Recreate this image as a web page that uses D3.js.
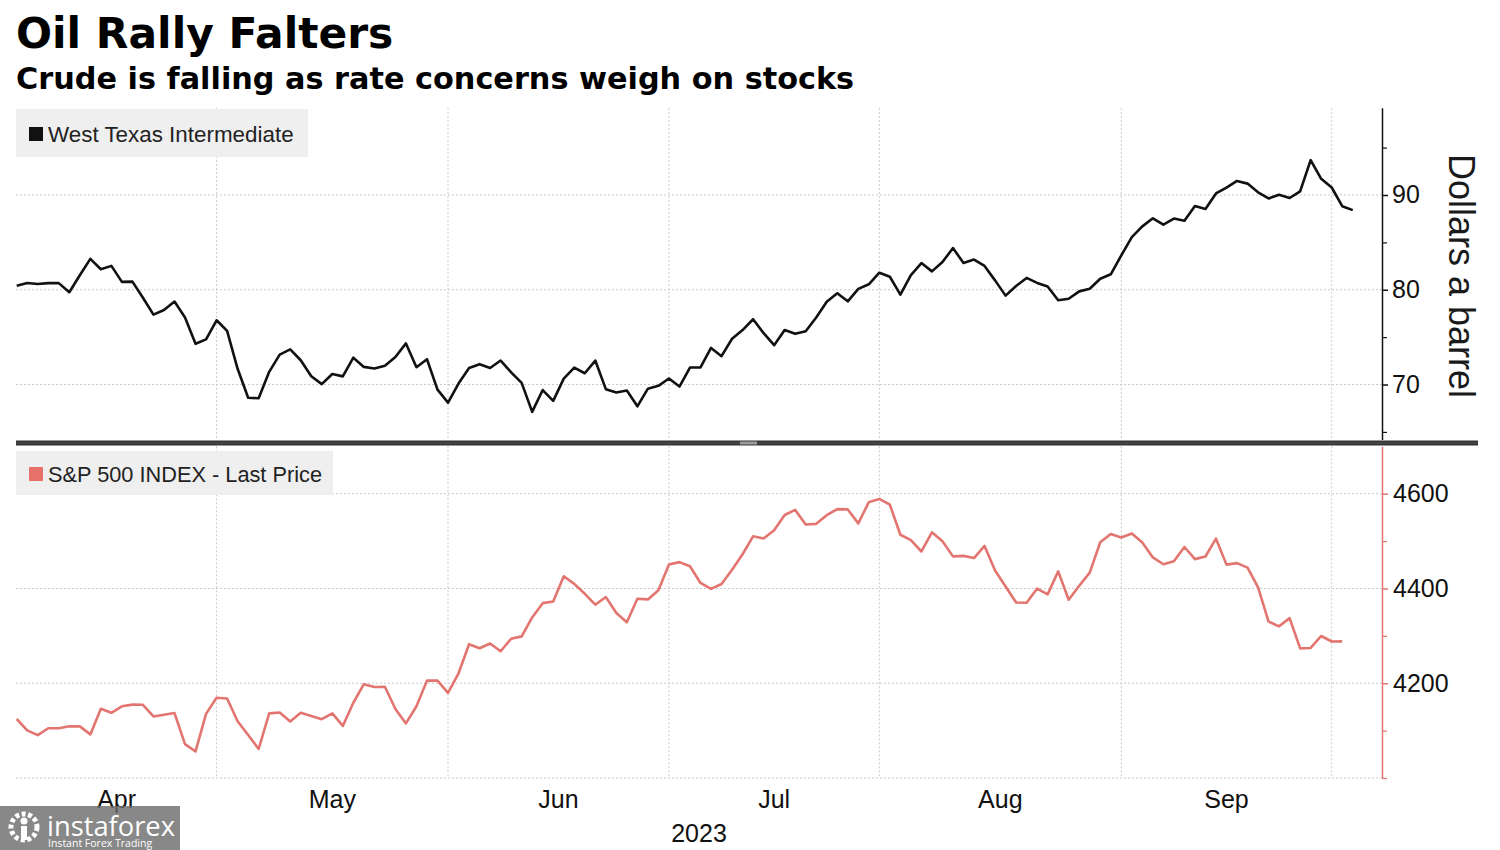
<!DOCTYPE html>
<html>
<head>
<meta charset="utf-8">
<script src="https://cdn.jsdelivr.net/npm/d3@7"></script>
<style>
  html, body { margin: 0; padding: 0; background: #ffffff; }
  svg { display: block; }
</style>
</head>
<body>
<svg id="chart" width="1500" height="850"></svg>
<script>
// ---------------- DATA ----------------
const title = "Oil Rally Falters";
const subtitle = "Crude is falling as rate concerns weigh on stocks";
const wtiLabel = "West Texas Intermediate";
const spxLabel = "S&P 500 INDEX - Last Price";
const wtiAxisTitle = "Dollars a barrel";
const yearLabel = "2023";

// trading days shown on the chart (Apr 3 2023 .. Oct 3 2023)
const dates = [
  "2023-04-03","2023-04-04","2023-04-05","2023-04-06","2023-04-07","2023-04-10","2023-04-11","2023-04-12","2023-04-13","2023-04-14",
  "2023-04-17","2023-04-18","2023-04-19","2023-04-20","2023-04-21","2023-04-24","2023-04-25","2023-04-26","2023-04-27","2023-04-28",
  "2023-05-01","2023-05-02","2023-05-03","2023-05-04","2023-05-05","2023-05-08","2023-05-09","2023-05-10","2023-05-11","2023-05-12",
  "2023-05-15","2023-05-16","2023-05-17","2023-05-18","2023-05-19","2023-05-22","2023-05-23","2023-05-24","2023-05-25","2023-05-26",
  "2023-05-30","2023-05-31",
  "2023-06-01","2023-06-02","2023-06-05","2023-06-06","2023-06-07","2023-06-08","2023-06-09","2023-06-12","2023-06-13","2023-06-14",
  "2023-06-15","2023-06-16","2023-06-20","2023-06-21","2023-06-22","2023-06-23","2023-06-26","2023-06-27","2023-06-28","2023-06-29",
  "2023-06-30",
  "2023-07-03","2023-07-05","2023-07-06","2023-07-07","2023-07-10","2023-07-11","2023-07-12","2023-07-13","2023-07-14","2023-07-17",
  "2023-07-18","2023-07-19","2023-07-20","2023-07-21","2023-07-24","2023-07-25","2023-07-26","2023-07-27","2023-07-28","2023-07-31",
  "2023-08-01","2023-08-02","2023-08-03","2023-08-04","2023-08-07","2023-08-08","2023-08-09","2023-08-10","2023-08-11","2023-08-14",
  "2023-08-15","2023-08-16","2023-08-17","2023-08-18","2023-08-21","2023-08-22","2023-08-23","2023-08-24","2023-08-25","2023-08-28",
  "2023-08-29","2023-08-30","2023-08-31",
  "2023-09-01","2023-09-05","2023-09-06","2023-09-07","2023-09-08","2023-09-11","2023-09-12","2023-09-13","2023-09-14","2023-09-15",
  "2023-09-18","2023-09-19","2023-09-20","2023-09-21","2023-09-22","2023-09-25","2023-09-26","2023-09-27","2023-09-28","2023-09-29",
  "2023-10-02","2023-10-03"
];

// West Texas Intermediate, $/bbl
const wti = [
  80.42, 80.71, 80.61, 80.70, 80.70, 79.74, 81.53, 83.26, 82.16, 82.52,
  80.83, 80.86, 79.16, 77.37, 77.87, 78.76, 77.07, 74.30, 74.76, 76.78,
  75.66, 71.66, 68.60, 68.56, 71.34, 73.16, 73.71, 72.56, 70.87, 70.04,
  71.11, 70.86, 72.83, 71.86, 71.69, 71.99, 72.91, 74.34, 71.83, 72.67,
  69.46, 68.09,
  70.10, 71.74, 72.15, 71.74, 72.53, 71.29, 70.17, 67.12, 69.42, 68.27,
  70.62, 71.78, 71.19, 72.53, 69.51, 69.16, 69.37, 67.70, 69.56, 69.86,
  70.64,
  69.79, 71.79, 71.80, 73.86, 72.99, 74.83, 75.75, 76.89, 75.42, 74.15,
  75.75, 75.35, 75.63, 77.07, 78.74, 79.63, 78.78, 80.09, 80.58, 81.80,
  81.37, 79.49, 81.55, 82.82, 81.94, 82.92, 84.40, 82.82, 83.19, 82.51,
  80.99, 79.38, 80.39, 81.25, 80.72, 80.35, 78.89, 79.05, 79.83, 80.10,
  81.16, 81.63, 83.63,
  85.55, 86.69, 87.54, 86.87, 87.51, 87.29, 88.84, 88.52, 90.16, 90.77,
  91.48, 91.20, 90.28, 89.63, 90.03, 89.68, 90.39, 93.68, 91.71, 90.79,
  88.82, 88.40
];

// S&P 500 index, last price
const spx = [
  4124.5, 4100.6, 4090.4, 4105.0, 4105.0, 4109.1, 4108.9, 4092.0, 4146.2, 4137.6,
  4151.3, 4154.9, 4154.5, 4129.8, 4133.5, 4137.0, 4071.6, 4056.0, 4135.4, 4169.5,
  4167.9, 4119.6, 4090.8, 4061.2, 4136.3, 4138.1, 4119.2, 4137.6, 4130.6, 4124.1,
  4136.3, 4109.9, 4158.8, 4198.1, 4192.0, 4192.6, 4145.6, 4115.2, 4151.3, 4205.5,
  4205.5, 4179.8,
  4221.0, 4282.4, 4273.8, 4283.9, 4267.5, 4293.9, 4298.9, 4338.9, 4369.0, 4372.6,
  4425.8, 4409.6, 4388.7, 4365.7, 4381.9, 4348.3, 4328.8, 4378.4, 4376.9, 4396.4,
  4450.4,
  4455.6, 4446.8, 4411.6, 4399.0, 4409.5, 4439.3, 4472.2, 4510.0, 4505.4, 4522.8,
  4555.0, 4565.7, 4534.9, 4536.3, 4554.6, 4567.5, 4566.8, 4537.4, 4582.2, 4589.0,
  4576.7, 4513.4, 4501.9, 4478.0, 4518.4, 4499.4, 4467.7, 4468.8, 4464.1, 4489.7,
  4437.9, 4404.3, 4370.4, 4369.7, 4399.8, 4387.6, 4436.0, 4376.3, 4405.7, 4433.3,
  4497.6, 4514.9, 4507.7,
  4515.8, 4496.8, 4465.5, 4451.1, 4457.5, 4487.5, 4461.9, 4467.4, 4505.1, 4450.3,
  4453.5, 4444.0, 4402.2, 4330.0, 4320.1, 4337.4, 4273.5, 4274.5, 4299.7, 4288.1,
  4288.4
];

const monthNames = ["Apr", "May", "Jun", "Jul", "Aug", "Sep"];
const wtiTicks = [70, 80, 90];
const wtiMinorTicks = [65, 75, 85, 95];
const spxTicks = [4200, 4400, 4600];
const spxMinorTicks = [4000, 4100, 4300, 4500];

// ---------------- LAYOUT ----------------
const svg = d3.select("#chart");
const plotLeft = 16, axisX = 1382;
const topPanel = { y0: 107.8, y1: 439.5 };
const botPanel = { y0: 446.3, y1: 778 };

const wtiColor = "#111111";
const spxColor = "#e2756f";
const gridColor = "#c9c9c9";

const x = d3.scaleLinear().domain([0, dates.length - 1]).range([16.7, 16.7 + (dates.length - 1) * 10.52]);
const yW = d3.scaleLinear().domain([64.2, 99.2]).range([topPanel.y1, topPanel.y0]);
const yS = d3.scaleLinear().domain([4000, 4700]).range([botPanel.y1, botPanel.y0]);

// month boundaries: last trading index of each month
const monthKey = dates.map(d => d.slice(0, 7));
const monthKeys = Array.from(new Set(monthKey)).slice(0, monthNames.length);
const lastIdx = monthKeys.map(k => monthKey.lastIndexOf(k));

const font = "'Liberation Sans', Arial, sans-serif";

// ---------------- TITLES ----------------
svg.append("text").attr("x", 16).attr("y", 48)
  .attr("font-family", "'DejaVu Sans', Verdana, sans-serif").attr("font-weight", "bold")
  .attr("font-size", 42.4).attr("fill", "#000").text(title);
svg.append("text").attr("x", 16).attr("y", 89)
  .attr("font-family", "'DejaVu Sans', Verdana, sans-serif").attr("font-weight", "bold")
  .attr("font-size", 30.3).attr("fill", "#000").text(subtitle);

// ---------------- GRIDS ----------------
const grid = svg.append("g").attr("stroke", gridColor).attr("stroke-width", 1).attr("stroke-dasharray", "2,2");
wtiTicks.forEach(v => grid.append("line").attr("x1", plotLeft).attr("x2", axisX).attr("y1", yW(v)).attr("y2", yW(v)));
spxTicks.concat([4000]).forEach(v => grid.append("line").attr("x1", plotLeft).attr("x2", axisX).attr("y1", yS(v)).attr("y2", yS(v)));
lastIdx.forEach(idx => {
  const gx = x(idx);
  grid.append("line").attr("x1", gx).attr("x2", gx).attr("y1", topPanel.y0).attr("y2", topPanel.y1);
  grid.append("line").attr("x1", gx).attr("x2", gx).attr("y1", botPanel.y0).attr("y2", botPanel.y1);
});

// ---------------- LEGENDS ----------------
const leg1 = svg.append("g");
leg1.append("rect").attr("x", 16).attr("y", 109).attr("width", 292).attr("height", 48).attr("fill", "#efefef");
leg1.append("rect").attr("x", 29).attr("y", 127).attr("width", 14).attr("height", 14).attr("fill", wtiColor);
leg1.append("text").attr("x", 48).attr("y", 142).attr("font-family", font).attr("font-size", 22.4)
  .attr("fill", "#222").text(wtiLabel);

const leg2 = svg.append("g");
leg2.append("rect").attr("x", 16).attr("y", 451).attr("width", 317).attr("height", 44).attr("fill", "#efefef");
leg2.append("rect").attr("x", 29).attr("y", 467).attr("width", 14).attr("height", 14).attr("fill", "#e8706a");
leg2.append("text").attr("x", 48).attr("y", 482).attr("font-family", font).attr("font-size", 22)
  .attr("fill", "#222").attr("textLength", 274).attr("lengthAdjust", "spacingAndGlyphs").text(spxLabel);

// ---------------- LINES ----------------
const lineW = d3.line().x((d, i) => x(i)).y(d => yW(d));
const lineS = d3.line().x((d, i) => x(i)).y(d => yS(d));
svg.append("path").datum(wti).attr("d", lineW).attr("fill", "none")
  .attr("stroke", wtiColor).attr("stroke-width", 2.6).attr("stroke-linejoin", "round");
svg.append("path").datum(spx).attr("d", lineS).attr("fill", "none")
  .attr("stroke", spxColor).attr("stroke-width", 2.6).attr("stroke-linejoin", "round");

// ---------------- AXES ----------------
function styleAxis(g, color) {
  g.select(".domain").attr("stroke", color).attr("stroke-width", 1.5);
  g.selectAll(".tick line").attr("stroke", color).attr("stroke-width", 1.5);
  g.selectAll(".tick text").attr("fill", "#111").attr("font-family", font).attr("font-size", 25);
}
const axW = svg.append("g").attr("transform", `translate(${axisX},0)`)
  .call(d3.axisRight(yW).tickValues(wtiTicks).tickSize(6).tickSizeOuter(0).tickPadding(4).tickFormat(d3.format("d")));
styleAxis(axW, "#111");
const axWm = svg.append("g").attr("transform", `translate(${axisX},0)`)
  .call(d3.axisRight(yW).tickValues(wtiMinorTicks).tickSize(5).tickSizeOuter(0).tickFormat(""));
axWm.select(".domain").remove();
axWm.selectAll(".tick line").attr("stroke", "#111").attr("stroke-width", 1.2);

const axS = svg.append("g").attr("transform", `translate(${axisX},0)`)
  .call(d3.axisRight(yS).tickValues(spxTicks).tickSize(6).tickSizeOuter(0).tickPadding(5).tickFormat(d3.format("d")));
styleAxis(axS, spxColor);
const axSm = svg.append("g").attr("transform", `translate(${axisX},0)`)
  .call(d3.axisRight(yS).tickValues(spxMinorTicks).tickSize(5).tickSizeOuter(0).tickFormat(""));
axSm.select(".domain").remove();
axSm.selectAll(".tick line").attr("stroke", spxColor).attr("stroke-width", 1.2);

// axis title
svg.append("text").attr("transform", `translate(1449,276) rotate(90)`)
  .attr("text-anchor", "middle").attr("font-family", font).attr("font-size", 36)
  .attr("fill", "#1a1a1a").text(wtiAxisTitle);

// panel separator
svg.append("rect").attr("x", 16).attr("y", 440.5).attr("width", 1462).attr("height", 5).attr("fill", "#353535");
svg.append("rect").attr("x", 16).attr("y", 442.3).attr("width", 1462).attr("height", 1.4).attr("fill", "#4a4a4a");
svg.append("rect").attr("x", 740).attr("y", 441.5).attr("width", 17).attr("height", 3).attr("fill", "#9a9a9a");

// ---------------- X AXIS LABELS ----------------
const monthPos = monthNames.map((m, i) => {
  const a = i === 0 ? x(0) : x(lastIdx[i - 1]);
  const b = x(lastIdx[i]);
  return { name: m, cx: (a + b) / 2 };
});
svg.append("g").selectAll("text").data(monthPos).join("text")
  .attr("x", d => d.cx).attr("y", 808).attr("text-anchor", "middle")
  .attr("font-family", font).attr("font-size", 25).attr("fill", "#111").text(d => d.name);
svg.append("text").attr("x", (plotLeft + axisX) / 2).attr("y", 842).attr("text-anchor", "middle")
  .attr("font-family", font).attr("font-size", 25).attr("fill", "#111").text(yearLabel);

// ---------------- WATERMARK ----------------
const wm = svg.append("g");
wm.append("rect").attr("x", 0).attr("y", 806).attr("width", 180).attr("height", 44).attr("fill", "rgba(110,110,110,0.82)");
wm.append("circle").attr("cx", 24).attr("cy", 827).attr("r", 13).attr("fill", "none")
  .attr("stroke", "#fff").attr("stroke-width", 5).attr("stroke-dasharray", "4,2.5");
wm.append("circle").attr("cx", 24).attr("cy", 821).attr("r", 3.5).attr("fill", "#fff");
wm.append("rect").attr("x", 21).attr("y", 826).attr("width", 6).attr("height", 14).attr("fill", "#fff");
wm.append("text").attr("x", 47).attr("y", 836).attr("font-family", "'Open Sans', Arial, sans-serif")
  .attr("font-size", 28).attr("fill", "#fff").attr("textLength", 128).attr("lengthAdjust", "spacingAndGlyphs").text("instaforex");
wm.append("text").attr("x", 48).attr("y", 847).attr("font-family", "'Open Sans', Arial, sans-serif")
  .attr("font-size", 10.5).attr("fill", "#fff").text("Instant Forex Trading");
</script>
</body>
</html>
